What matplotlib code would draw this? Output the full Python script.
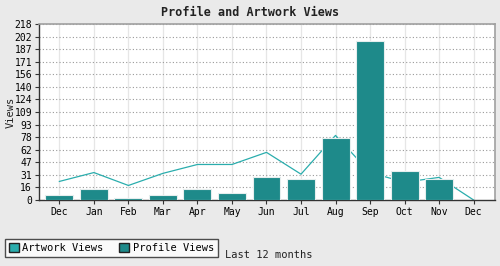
import matplotlib
matplotlib.use("Agg")
import matplotlib.pyplot as plt
import numpy as np
from matplotlib.patches import Patch

months = ["Dec", "Jan", "Feb", "Mar", "Apr", "May", "Jun", "Jul", "Aug", "Sep", "Oct", "Nov", "Dec"]
profile_views = [6, 14, 2, 6, 14, 9, 29, 26, 77, 197, 36, 26, 0]
artwork_views = [23, 34, 18, 33, 44, 44, 59, 32, 80, 34, 22, 28, 0]
ymax = 218
ytick_vals = [0, 16, 31, 47, 62, 78, 93, 109, 124, 140, 156, 171, 187, 202, 218]

bg = "#EAEAEA"
bar_color = "#1E8A8A"
line_color = "#2AADAD"
font = "DejaVu Sans Mono"

fig = plt.figure(figsize=(5.0, 2.66), dpi=100, facecolor=bg)
ax = fig.add_axes([39/500, 1-200/266, (495-39)/500, 176/266])
ax.set_facecolor("white")

x = np.arange(len(months))
ax.bar(x, profile_views, width=0.81, color=bar_color, edgecolor="#E6EEEE", linewidth=0.8, zorder=3)
ax.plot(x, artwork_views, color=line_color, linewidth=0.9, zorder=2)

ax.set_xlim(-0.59, 12.62)
ax.set_ylim(0, ymax)

ax.set_yticks([ymax*i/14 for i in range(15)])
ax.set_yticklabels([str(v) for v in ytick_vals], fontfamily=font, fontsize=7)
ax.set_xticks(x)
ax.set_xticklabels(months, fontfamily=font, fontsize=7)
ax.tick_params(axis="both", direction="out", length=3, width=0.8, color="#333333", pad=2)

# grid
for yv in [ymax*i/14 for i in range(1, 15)]:
    ax.axhline(yv, color="#999999", linestyle=(0, (1, 2)), linewidth=0.8, zorder=1)
for xv in x:
    ax.axvline(xv, color="#E6E6E6", linewidth=0.9, zorder=0)

for s in ["left", "bottom"]:
    ax.spines[s].set_color("#333333")
    ax.spines[s].set_linewidth(1.0)
for s in ["top", "right"]:
    ax.spines[s].set_color("#A0A0A0")
    ax.spines[s].set_linewidth(1.2)

fig.text(0.5, 1-12/266, "Profile and Artwork Views", ha="center", va="center",
         fontfamily=font, fontsize=8.5, fontweight="bold", color="#222222")
fig.text(11/500, 1-112/266, "Views", rotation=90, ha="center", va="center",
         fontfamily=font, fontsize=7.5, color="#222222")
fig.text(225/500, 1-255/266, "Last 12 months", ha="left", va="center",
         fontfamily=font, fontsize=7.5, color="#222222")

handles = [Patch(facecolor=line_color, edgecolor="#222222", label="Artwork Views"),
           Patch(facecolor=bar_color, edgecolor="#222222", label="Profile Views")]
leg = fig.legend(handles=handles, loc="lower left", bbox_to_anchor=(5/500, 1-257/266),
                 ncol=2, prop={"family": font, "size": 7.5}, frameon=True, fancybox=False,
                 borderaxespad=0, handlelength=1.0, handleheight=1.0, handletextpad=0.3,
                 columnspacing=1.5, borderpad=0.35)
leg.get_frame().set_edgecolor("#222222")
leg.get_frame().set_linewidth(1.0)
leg.get_frame().set_facecolor("white")

fig.savefig("out.png", dpi=100, facecolor=bg)
